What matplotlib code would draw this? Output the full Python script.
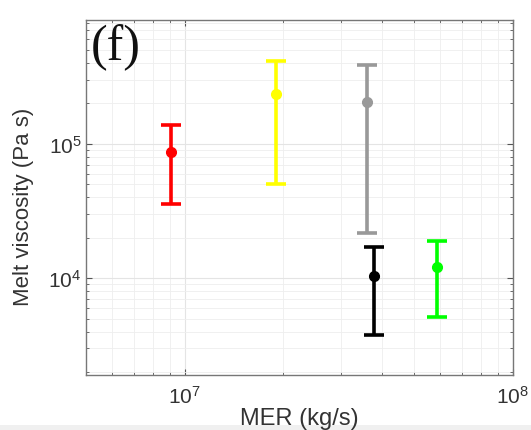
import matplotlib
matplotlib.use('Agg')
import matplotlib.pyplot as plt
from matplotlib.ticker import LogLocator, NullFormatter
from matplotlib.patches import Rectangle

plt.rcParams['font.family'] = ['Liberation Sans', 'DejaVu Sans']
plt.rcParams['mathtext.default'] = 'regular'

# Данные: MER (kg/s) и вязкость расплава (Pa s) с интервалами
mer = [9.1e6, 1.9e7, 3.6e7, 3.78e7, 5.86e7]
visc = [8.7e4, 2.36e5, 2.04e5, 1.03e4, 1.21e4]
visc_low = [3.58e4, 4.98e4, 2.16e4, 3.79e3, 5.13e3]
visc_high = [1.39e5, 4.17e5, 3.89e5, 1.70e4, 1.89e4]
colors = ['#ff0000', '#ffff00', '#999999', '#000000', '#00ff00']

fig = plt.figure(figsize=(5.31, 4.31), dpi=100)
ax = fig.add_axes([0.1614, 0.1276, 0.8046, 0.8244])

for x, y, lo, hi, c in zip(mer, visc, visc_low, visc_high, colors):
    ax.errorbar([x], [y], yerr=[[y - lo], [hi - y]], fmt='o', color=c,
                ecolor=c, elinewidth=2.6, capsize=7, capthick=2.6,
                markersize=7, zorder=3)

ax.set_xscale('log')
ax.set_yscale('log')
ax.set_xlim(5e6, 1e8)
ax.set_ylim(1.9e3, 8.4e5)

ax.xaxis.set_major_locator(LogLocator(base=10, numticks=5))
ax.xaxis.set_minor_locator(LogLocator(base=10, subs=range(2, 10), numticks=20))
ax.yaxis.set_major_locator(LogLocator(base=10, numticks=5))
ax.yaxis.set_minor_locator(LogLocator(base=10, subs=range(2, 10), numticks=20))
ax.xaxis.set_minor_formatter(NullFormatter())
ax.yaxis.set_minor_formatter(NullFormatter())

ax.grid(True, which='major', color='#e4e4e4', linewidth=0.8)
ax.grid(True, which='minor', color='#eeeeee', linewidth=0.6)
ax.set_axisbelow(True)

ax.tick_params(which='both', direction='in', top=True, right=True,
               colors='#555555', labelcolor='#333333', labelsize=15)
ax.tick_params(which='major', length=4)
ax.tick_params(which='minor', length=2.5)
ax.tick_params(axis='x', pad=7)
ax.tick_params(axis='y', pad=3)
for s in ax.spines.values():
    s.set_color('#777777')
    s.set_linewidth(1.0)

ax.set_xlabel('MER (kg/s)', fontsize=17, color='#333333', labelpad=0)
ax.set_ylabel('Melt viscosity (Pa s)', fontsize=16, color='#333333')
ax.yaxis.set_label_coords(-0.121, 0.476)

ax.text(0.012, 0.99, '(f)', transform=ax.transAxes, ha='left', va='top',
        fontsize=36, family=['Liberation Serif', 'DejaVu Serif'], color='#111111')

# светло-серая полоса внизу картинки
fig.patches.append(Rectangle((0, 0), 1, 0.012, transform=fig.transFigure,
                             facecolor='#f0f0f0', edgecolor='none', zorder=-1))

fig.savefig('out.png', dpi=100)
